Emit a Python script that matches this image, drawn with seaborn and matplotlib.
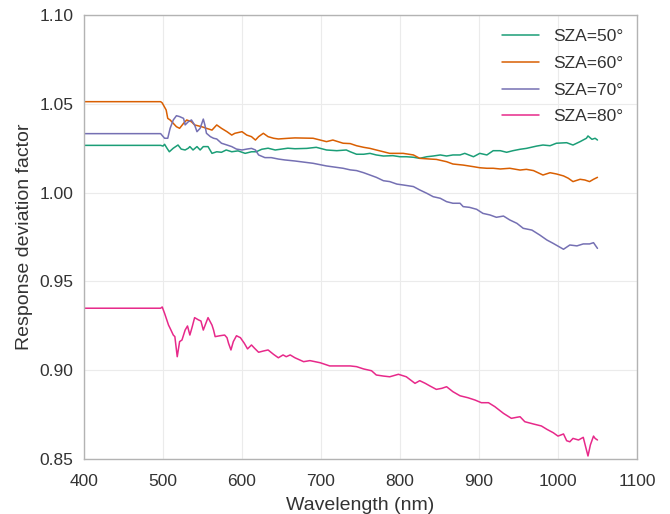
import numpy as np
import pandas as pd
import seaborn as sns
from matplotlib import pyplot as plt

# values (wavelength nm -> response deviation factor)
wl_50 = [400, 497, 500, 502, 505, 508, 513, 519, 523, 528, 532, 534, 538, 543, 547, 551, 557, 562,
         568, 574, 580, 587, 595, 604, 612, 618, 625, 633, 642, 650, 658, 667, 682, 694, 707, 720,
         732, 737, 745, 754, 762, 770, 779, 791, 800, 808, 817, 825, 834, 842, 851, 859, 867, 876,
         882, 893, 901, 910, 918, 927, 935, 943, 952, 960, 973, 981, 990, 998, 1011, 1019, 1028,
         1036, 1038, 1043, 1047, 1050]
sza_50 = [1.0266, 1.0266, 1.0262, 1.0272, 1.0250, 1.0230, 1.0250, 1.0268, 1.0245, 1.0240, 1.0250,
          1.0259, 1.0240, 1.0259, 1.0240, 1.0259, 1.0259, 1.0221, 1.0230, 1.0227, 1.0240, 1.0230,
          1.0235, 1.0221, 1.0230, 1.0230, 1.0244, 1.0250, 1.0240, 1.0245, 1.0250, 1.0247, 1.0249,
          1.0255, 1.0240, 1.0236, 1.0240, 1.0230, 1.0216, 1.0216, 1.0221, 1.0212, 1.0206, 1.0208,
          1.0202, 1.0202, 1.0199, 1.0193, 1.0202, 1.0206, 1.0212, 1.0206, 1.0212, 1.0212, 1.0221,
          1.0202, 1.0221, 1.0212, 1.0236, 1.0236, 1.0227, 1.0236, 1.0244, 1.0249, 1.0262, 1.0268,
          1.0264, 1.0278, 1.0281, 1.0268, 1.0287, 1.0306, 1.0319, 1.0300, 1.0306, 1.0296]

wl_60 = [400, 497, 499, 504, 506, 509, 513, 517, 521, 526, 530, 536, 540, 549, 555, 562, 568, 574,
         581, 587, 591, 600, 606, 612, 617, 621, 627, 633, 640, 646, 659, 667, 690, 699, 707, 715,
         728, 737, 745, 754, 762, 770, 779, 787, 796, 804, 817, 825, 838, 846, 859, 867, 880, 893,
         901, 910, 918, 927, 939, 952, 960, 969, 981, 990, 998, 1007, 1013, 1019, 1028, 1034, 1040,
         1045, 1050]
sza_60 = [1.0512, 1.0512, 1.0505, 1.0465, 1.0418, 1.0409, 1.0390, 1.0371, 1.0362, 1.0390, 1.0409,
          1.0399, 1.0381, 1.0371, 1.0362, 1.0352, 1.0381, 1.0362, 1.0343, 1.0324, 1.0334, 1.0343,
          1.0324, 1.0315, 1.0296, 1.0315, 1.0334, 1.0315, 1.0306, 1.0302, 1.0306, 1.0308, 1.0306,
          1.0296, 1.0287, 1.0296, 1.0278, 1.0276, 1.0264, 1.0255, 1.0249, 1.0240, 1.0230, 1.0221,
          1.0221, 1.0221, 1.0212, 1.0193, 1.0189, 1.0187, 1.0174, 1.0161, 1.0155, 1.0146, 1.0140,
          1.0137, 1.0137, 1.0133, 1.0137, 1.0127, 1.0131, 1.0124, 1.0099, 1.0112, 1.0105, 1.0094,
          1.0081, 1.0062, 1.0075, 1.0071, 1.0062, 1.0075, 1.0086]

wl_70 = [400, 497, 502, 506, 509, 513, 517, 521, 526, 528, 532, 536, 540, 543, 547, 551, 553, 555,
         560, 564, 568, 574, 581, 587, 593, 600, 606, 612, 617, 621, 629, 637, 646, 654, 667, 690,
         707, 728, 737, 745, 754, 762, 770, 779, 787, 796, 804, 817, 825, 834, 842, 851, 859, 867,
         876, 880, 888, 897, 905, 914, 922, 931, 939, 948, 956, 967, 977, 986, 994, 1007, 1015, 1024,
         1032, 1040, 1045, 1050]
sza_70 = [1.0332, 1.0332, 1.0306, 1.0306, 1.0362, 1.0409, 1.0433, 1.0428, 1.0418, 1.0381, 1.0399,
          1.0409, 1.0381, 1.0343, 1.0362, 1.0414, 1.0381, 1.0334, 1.0315, 1.0306, 1.0302, 1.0278,
          1.0268, 1.0259, 1.0245, 1.0240, 1.0245, 1.0249, 1.0240, 1.0212, 1.0197, 1.0197, 1.0189,
          1.0184, 1.0178, 1.0165, 1.0150, 1.0137, 1.0128, 1.0124, 1.0112, 1.0099, 1.0086, 1.0067,
          1.0062, 1.0048, 1.0043, 1.0034, 1.0015, 0.9996, 0.9977, 0.9968, 0.9949, 0.9940, 0.9940,
          0.9921, 0.9917, 0.9906, 0.9883, 0.9874, 0.9861, 0.9868, 0.9846, 0.9827, 0.9799, 0.9789,
          0.9761, 0.9733, 0.9714, 0.9681, 0.9705, 0.9700, 0.9711, 0.9711, 0.9718, 0.9686]

wl_80 = [400, 497, 499, 502, 507, 509, 513, 515, 518, 521, 524, 528, 531, 534, 537, 540, 545, 548,
         551, 555, 557, 562, 564, 566, 572, 578, 581, 583, 586, 589, 593, 598, 603, 607, 612, 616,
         621, 627, 633, 640, 646, 652, 656, 661, 667, 678, 686, 699, 711, 724, 737, 745, 754, 764,
         770, 779, 787, 798, 808, 819, 825, 832, 838, 846, 853, 859, 867, 876, 886, 895, 903, 912,
         920, 931, 941, 948, 952, 958, 969, 979, 986, 994, 1000, 1007, 1011, 1015, 1019, 1026, 1032,
         1035, 1038, 1041, 1045, 1047, 1050]
sza_80 = [0.9349, 0.9349, 0.9356, 0.9320, 0.9254, 0.9236, 0.9198, 0.9189, 0.9076, 0.9161, 0.9170,
          0.9226, 0.9249, 0.9198, 0.9245, 0.9296, 0.9283, 0.9277, 0.9226, 0.9273, 0.9296, 0.9254,
          0.9226, 0.9189, 0.9194, 0.9198, 0.9183, 0.9151, 0.9114, 0.9161, 0.9194, 0.9183, 0.9151,
          0.9120, 0.9142, 0.9123, 0.9101, 0.9108, 0.9114, 0.9089, 0.9070, 0.9086, 0.9076, 0.9086,
          0.9070, 0.9048, 0.9054, 0.9042, 0.9024, 0.9024, 0.9024, 0.9020, 0.9007, 0.8997, 0.8973,
          0.8967, 0.8963, 0.8977, 0.8963, 0.8926, 0.8941, 0.8926, 0.8911, 0.8892, 0.8898, 0.8907,
          0.8879, 0.8856, 0.8845, 0.8832, 0.8817, 0.8817, 0.8795, 0.8757, 0.8729, 0.8735, 0.8738,
          0.8710, 0.8697, 0.8686, 0.8667, 0.8648, 0.8629, 0.8641, 0.8603, 0.8597, 0.8616, 0.8607,
          0.8622, 0.8569, 0.8517, 0.8579, 0.8629, 0.8616, 0.8607]

labels = ['SZA=50°', 'SZA=60°', 'SZA=70°', 'SZA=80°']
colors = ['#1b9e77', '#d95f02', '#7570b3', '#e7298a']

frames = []
for lab, x, y in zip(labels, [wl_50, wl_60, wl_70, wl_80], [sza_50, sza_60, sza_70, sza_80]):
    frames.append(pd.DataFrame({'wavelength': x, 'factor': y, 'sza': lab}))
df = pd.concat(frames, ignore_index=True)

sns.set_style('whitegrid', {'grid.color': '#ebebeb', 'axes.edgecolor': '#b3b3b3',
                            'text.color': '#333333', 'axes.labelcolor': '#333333',
                            'xtick.color': '#333333', 'ytick.color': '#333333'})
plt.rcParams['font.family'] = ['Liberation Sans', 'DejaVu Sans']

fig = plt.figure(figsize=(6.7, 5.14), dpi=100)
ax = fig.add_axes([0.1254, 0.107, 0.8253, 0.8638])

sns.lineplot(data=df, x='wavelength', y='factor', hue='sza', palette=dict(zip(labels, colors)),
             estimator=None, linewidth=1.1, ax=ax)

ax.set_xlim(400, 1100)
ax.set_ylim(0.85, 1.10)
ax.set_xticks(np.arange(400, 1101, 100))
ax.set_yticks([0.85, 0.90, 0.95, 1.00, 1.05, 1.10])
ax.set_yticklabels(['%.2f' % v for v in [0.85, 0.90, 0.95, 1.00, 1.05, 1.10]])
ax.tick_params(labelsize=12.5, length=0)
ax.tick_params(axis='x', pad=11)
ax.tick_params(axis='y', pad=7.5)
ax.set_xlabel('Wavelength (nm)', fontsize=14, labelpad=5.5)
ax.set_ylabel('Response deviation factor', fontsize=14, labelpad=5)
for s in ax.spines.values():
    s.set_linewidth(1.0)

h, l = ax.get_legend_handles_labels()
ax.legend(h, l, loc='upper right', frameon=False, fontsize=12.5, handlelength=2.1,
          borderaxespad=0.4, labelspacing=0.67, handletextpad=0.8)

fig.savefig('out.png', dpi=100)
